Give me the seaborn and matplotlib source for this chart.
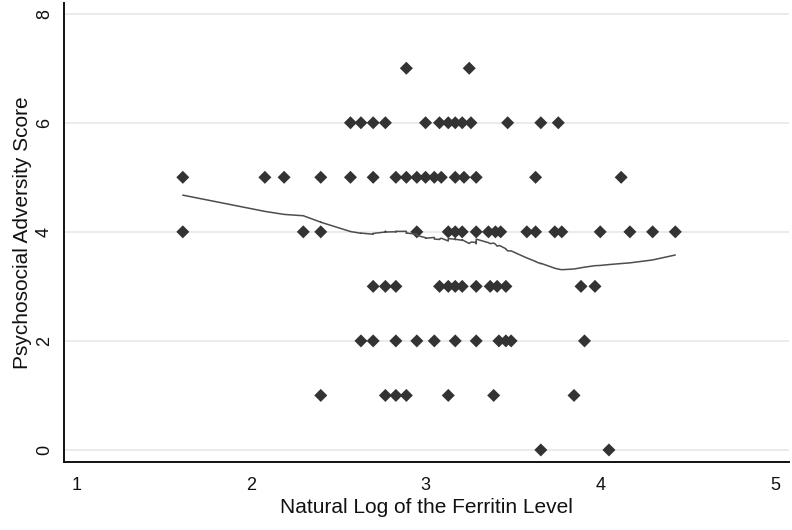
import numpy as np
import pandas as pd
import matplotlib
matplotlib.use("Agg")
import matplotlib.pyplot as plt
import seaborn as sns

# natural log of ferritin, grouped by psychosocial adversity score
ln_ferritin_score0 = [3.66, 4.05]
ln_ferritin_score1 = [2.40, 2.77, 2.83, 2.89, 3.13, 3.39, 3.85]
ln_ferritin_score2 = [2.63, 2.70, 2.83, 2.95, 3.05, 3.17, 3.29, 3.42, 3.46, 3.49, 3.91]
ln_ferritin_score3 = [2.70, 2.77, 2.83, 3.08, 3.13, 3.17, 3.21, 3.29, 3.37, 3.41, 3.46,
                      3.89, 3.97]
ln_ferritin_score4 = [1.61, 2.30, 2.40, 2.95, 3.13, 3.17, 3.21, 3.29, 3.36, 3.40, 3.43,
                      3.58, 3.63, 3.74, 3.78, 4.00, 4.17, 4.30, 4.43]
ln_ferritin_score5 = [1.61, 2.08, 2.19, 2.40, 2.57, 2.70, 2.83, 2.89, 2.95, 3.00, 3.05,
                      3.09, 3.17, 3.22, 3.29, 3.63, 4.12]
ln_ferritin_score6 = [2.57, 2.63, 2.70, 2.77, 3.00, 3.08, 3.13, 3.17, 3.21, 3.26, 3.47,
                      3.66, 3.76]
ln_ferritin_score7 = [2.89, 3.25]

groups = [ln_ferritin_score0, ln_ferritin_score1, ln_ferritin_score2, ln_ferritin_score3,
          ln_ferritin_score4, ln_ferritin_score5, ln_ferritin_score6, ln_ferritin_score7]

x_ticks = [1, 2, 3, 4, 5]
y_ticks = [0, 2, 4, 6, 8]

df = pd.DataFrame({
    "ln_ferritin": [v for g in groups for v in g],
    "score": [s for s, g in enumerate(groups) for _ in g],
})


def stata_lowess(x, y, bwidth=0.8):
    """Running-line lowess with tricube weights, like Stata's default."""
    order = np.argsort(x, kind="stable")
    xs, ys = np.asarray(x, float)[order], np.asarray(y, float)[order]
    n = len(xs)
    k = int(np.floor((n * bwidth - 0.5) / 2))
    fit = np.empty(n)
    for i in range(n):
        lo, hi = max(0, i - k), min(n - 1, i + k)
        xw, yw = xs[lo:hi + 1], ys[lo:hi + 1]
        delta = 1.0001 * max(xs[hi] - xs[i], xs[i] - xs[lo])
        w = (1 - (np.abs(xw - xs[i]) / delta) ** 3) ** 3
        xm = np.sum(w * xw) / np.sum(w)
        ym = np.sum(w * yw) / np.sum(w)
        sxx = np.sum(w * (xw - xm) ** 2)
        b = np.sum(w * (xw - xm) * (yw - ym)) / sxx if sxx > 0 else 0.0
        fit[i] = ym + b * (xs[i] - xm)
    return xs, fit


lx, ly = stata_lowess(df["ln_ferritin"].values, df["score"].values)

sns.set_style("white")
plt.rcParams["font.family"] = ["Liberation Sans", "DejaVu Sans"]

fig = plt.figure(figsize=(7.92, 5.30), dpi=100)
ax = fig.add_axes([0.0802, 0.1289, 0.9158, 0.8654])

for yv in y_ticks:
    ax.axhline(yv, color="#e9e9e9", lw=1.3, zorder=0)

sns.scatterplot(data=df, x="ln_ferritin", y="score", ax=ax, marker="D", s=44,
                color="#333333", edgecolor="none", zorder=3)
ax.plot(lx, ly, color="#4d4d4d", lw=1.1, zorder=4)

ax.set_xlim(0.927, 5.08)
ax.set_ylim(-0.215, 8.196)
ax.set_xticks(x_ticks)
ax.set_yticks(y_ticks)
ax.set_yticklabels([str(t) for t in y_ticks], rotation=90, va="center")

for side in ["top", "right"]:
    ax.spines[side].set_visible(False)
for side in ["left", "bottom"]:
    ax.spines[side].set_color("#111111")
    ax.spines[side].set_linewidth(1.4)

ax.tick_params(axis="both", which="major", direction="out", length=5, width=1.2,
               color="#111111", labelsize=13, labelcolor="#111111")
ax.tick_params(axis="x", pad=6)
ax.tick_params(axis="y", pad=2.5)

ax.set_xlabel("Natural Log of the Ferritin Level", fontsize=15, color="#111111",
              labelpad=3)
ax.set_ylabel("Psychosocial Adversity Score", fontsize=15, color="#111111",
              labelpad=3)

fig.savefig("out.png", dpi=100)
